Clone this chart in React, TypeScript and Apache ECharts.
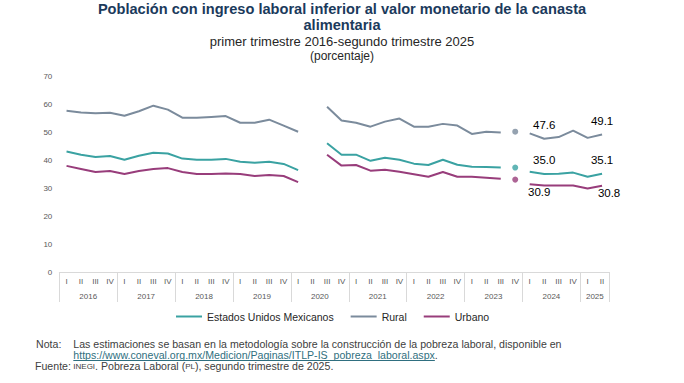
import React, { useEffect, useRef } from 'react';
import * as echarts from 'echarts';

const years = ['2016', '2017', '2018', '2019', '2020', '2021', '2022', '2023', '2024', '2025'];
const quarterLabels = ['I', 'II', 'III', 'IV'];
const quartersPerYear = [4, 4, 4, 4, 4, 4, 4, 4, 4, 2];

const seriesNames = ['Estados Unidos Mexicanos', 'Rural', 'Urbano'];

const nacional = [43.0, 41.9, 41.1, 41.4, 40.1, 41.5, 42.6, 42.3, 40.5, 40.1, 40.1, 40.4, 39.4, 39.0, 39.4, 38.6, 36.4, null, 46.0, 41.9, 41.9, 39.7, 40.8, 40.1, 38.7, 38.2, 40.1, 38.3, 37.6, 37.5, 37.3, 37.3, 35.8, 35.0, 35.1, 35.5, 34.0, 35.1];
const rural = [57.6, 57.0, 56.7, 56.9, 55.8, 57.4, 59.4, 58.0, 55.1, 55.1, 55.4, 55.7, 53.3, 53.3, 54.4, 52.3, 50.1, null, 59.0, 54.1, 53.3, 51.9, 53.7, 54.8, 51.9, 51.9, 52.9, 52.3, 49.3, 50.1, 49.8, 50.1, 49.5, 47.6, 48.2, 50.5, 47.9, 49.1];
const urbano = [37.9, 36.8, 35.7, 36.1, 35.0, 36.1, 36.8, 37.1, 35.7, 35.0, 35.0, 35.2, 35.0, 34.3, 34.6, 34.3, 32.1, null, 41.9, 38.0, 38.2, 36.2, 36.5, 35.8, 34.9, 34.0, 35.7, 34.0, 34.0, 33.7, 33.3, 33.0, 31.3, 30.9, 30.9, 30.9, 29.8, 30.8];

// 2023 IV is shown as an isolated point
const isolatedIndex = 31;
const labeledIndexes = [33, 37];

const colors = ['#3AA2A2', '#7B8B9C', '#983D7B'];

const FONT = 'Arial, "Liberation Sans", sans-serif';

const titleLines = ['Población con ingreso laboral inferior al valor monetario de la canasta', 'alimentaria'];
const subtitle = 'primer trimestre 2016-segundo trimestre 2025';
const unitText = '(porcentaje)';
const notaText = 'Las estimaciones se basan en la metodología sobre la construcción de la pobreza laboral, disponible en';
const linkText = 'https://www.coneval.org.mx/Medicion/Paginas/ITLP-IS_pobreza_laboral.aspx';

const NOTE_SIZE = 10.6;

function measure(text: string, font: string): number {
  const c = document.createElement('canvas').getContext('2d');
  if (!c) return text.length * 5;
  c.font = font;
  return c.measureText(text).width;
}

export default function App() {
  const ref = useRef<HTMLDivElement>(null);

  useEffect(() => {
    document.body.style.margin = '0';
    if (!ref.current) return;
    const chart = echarts.init(ref.current, undefined, { renderer: 'svg' });

    const categories: string[] = [];
    years.forEach((y, yi) => {
      quarterLabels.slice(0, quartersPerYear[yi]).forEach((q) => categories.push(q + '-' + y));
    });

    const slots = categories.length * 2;
    const yearAxisData: string[] = [];
    for (let k = 0; k <= slots; k++) yearAxisData.push('_' + k);
    const boundaries = new Set<number>();
    let start = 0;
    years.forEach((y, yi) => {
      boundaries.add(start);
      yearAxisData[start + quartersPerYear[yi]] = y;
      start += quartersPerYear[yi] * 2;
    });
    boundaries.add(slots);

    const labelCfgs: any[] = [
      [{ position: 'top', distance: 8 }, { position: 'top', distance: 8 }],
      [{ position: 'top', distance: 8 }, { position: 'top', distance: 8 }],
      [{ position: 'bottom', distance: 1, offset: [-5, 0] }, { position: 'bottom', distance: 1, offset: [7, 0] }],
    ];

    const all = [nacional, rural, urbano];
    const lineSeries = all.map((vals, si) => ({
      type: 'line',
      name: seriesNames[si],
      color: colors[si],
      xAxisIndex: 0,
      connectNulls: false,
      symbol: 'circle',
      symbolSize: 0,
      showSymbol: true,
      showAllSymbol: true,
      silent: true,
      lineStyle: { width: 2, color: colors[si] },
      label: { show: false },
      data: vals.map((v, i) => {
        if (i === isolatedIndex) return null;
        const li = labeledIndexes.indexOf(i);
        if (li >= 0 && v != null) {
          return {
            value: v,
            label: {
              show: true,
              formatter: (p: any) => Number(p.value).toFixed(1),
              fontSize: 11.5,
              fontFamily: FONT,
              color: '#000',
              ...labelCfgs[si][li],
            },
          };
        }
        return v;
      }),
    }));

    const dotSeries = all.map((vals, si) => ({
      type: 'scatter',
      name: seriesNames[si] + ' (punto)',
      color: colors[si],
      xAxisIndex: 0,
      symbol: 'circle',
      symbolSize: 6,
      silent: true,
      data: vals.map((v, i) => (i === isolatedIndex ? v : null)),
    }));

    const noteFont = NOTE_SIZE + 'px Arial, "Liberation Sans", sans-serif';
    const linkW = measure(linkText, noteFont);

    chart.setOption({
      animation: false,
      grid: { left: 59.3, right: 74.7, top: 76, bottom: 111 },
      legend: {
        data: seriesNames,
        left: 171,
        top: 306,
        icon: 'rect',
        itemWidth: 26,
        itemHeight: 2,
        itemGap: 17,
        selectedMode: false,
        textStyle: { fontSize: 10.5, color: '#262626', fontFamily: FONT },
      },
      xAxis: [
        {
          type: 'category',
          data: categories,
          boundaryGap: true,
          axisLine: { show: true, lineStyle: { color: '#D9D9D9', width: 1 } },
          axisTick: { show: false },
          splitLine: { show: false },
          axisLabel: {
            interval: 0,
            margin: 5,
            fontSize: 8,
            fontFamily: FONT,
            color: '#595959',
            formatter: (v: string) => v.split('-')[0],
          },
        },
        {
          type: 'category',
          position: 'bottom',
          data: yearAxisData,
          boundaryGap: false,
          axisLine: { show: false },
          axisTick: {
            show: true,
            length: 30,
            interval: (index: number) => boundaries.has(index),
            lineStyle: { color: '#D9D9D9', width: 1 },
          },
          splitLine: { show: false },
          axisLabel: {
            margin: 20,
            fontSize: 8,
            fontFamily: FONT,
            color: '#595959',
            interval: (_index: number, value: string) => !String(value).startsWith('_'),
            formatter: (v: string) => (v.startsWith('_') ? '' : v),
          },
        },
      ],
      yAxis: {
        type: 'value',
        min: 0,
        max: 70,
        interval: 10,
        axisLine: { show: false },
        axisTick: { show: false },
        splitLine: { show: false },
        axisLabel: { margin: 7, fontSize: 8, fontFamily: FONT, color: '#595959' },
      },
      graphic: [
        {
          type: 'text',
          x: 342,
          y: 8.5,
          style: {
            text: titleLines[0],
            font: 'bold 14.6px ' + FONT,
            fill: '#1B3A5C',
            textAlign: 'center',
            textVerticalAlign: 'middle',
          },
        },
        {
          type: 'text',
          x: 342,
          y: 24.5,
          style: {
            text: titleLines[1],
            font: 'bold 14.6px ' + FONT,
            fill: '#1B3A5C',
            textAlign: 'center',
            textVerticalAlign: 'middle',
          },
        },
        {
          type: 'text',
          x: 342,
          y: 41.5,
          style: { text: subtitle, font: '13px ' + FONT, fill: '#262626', textAlign: 'center', textVerticalAlign: 'middle' },
        },
        {
          type: 'text',
          x: 342,
          y: 55.5,
          style: { text: unitText, font: '12px ' + FONT, fill: '#262626', textAlign: 'center', textVerticalAlign: 'middle' },
        },
        {
          type: 'text',
          x: 36,
          y: 343.5,
          style: { text: 'Nota:', font: noteFont, fill: '#404040', textVerticalAlign: 'middle' },
        },
        {
          type: 'text',
          x: 73.3,
          y: 343.5,
          style: { text: notaText, font: noteFont, fill: '#404040', textVerticalAlign: 'middle' },
        },
        {
          type: 'text',
          x: 73.3,
          y: 355,
          style: { text: linkText, font: noteFont, fill: '#2F6F80', textVerticalAlign: 'middle' },
        },
        {
          type: 'line',
          shape: { x1: 73.3, y1: 360.5, x2: 73.3 + linkW, y2: 360.5 },
          style: { stroke: '#2F6F80', lineWidth: 1 },
        },
        {
          type: 'text',
          x: 73.3 + linkW,
          y: 355,
          style: { text: '.', font: noteFont, fill: '#404040', textVerticalAlign: 'middle' },
        },
        {
          type: 'text',
          x: 35,
          y: 366,
          style: { text: 'Fuente:', font: noteFont, fill: '#404040', textVerticalAlign: 'middle' },
        },
        {
          type: 'text',
          x: 73.3,
          y: 366,
          style: {
            text: '{s|INEGI}. Pobreza Laboral ({s|PL}), segundo trimestre de 2025.',
            font: noteFont,
            fill: '#404040',
            textVerticalAlign: 'middle',
            rich: { s: { fontSize: 8, fontFamily: FONT, fill: '#404040' } },
          },
        },
      ],
      series: [...lineSeries, ...dotSeries],
    });

    return () => chart.dispose();
  }, []);

  return <div ref={ref} style={{ width: 684, height: 383 }} />;
}
